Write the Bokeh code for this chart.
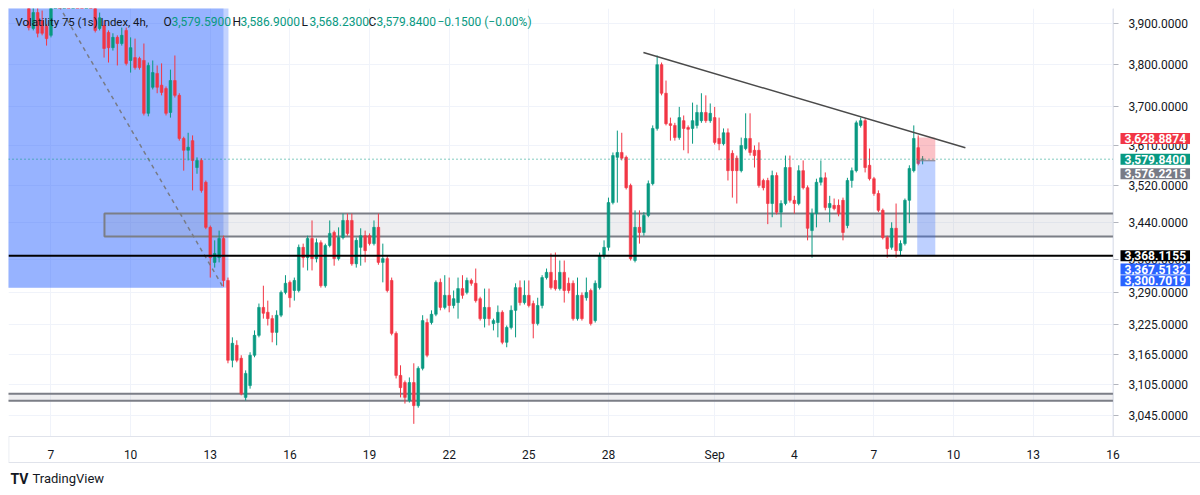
import pandas as pd
from bokeh.plotting import figure
from bokeh.models import Range1d, FixedTicker, NumeralTickFormatter, Label, ColumnDataSource
from bokeh.embed import file_html
from bokeh.resources import INLINE

# ---------------- data (4h candles, Volatility 75 (1s) Index) ----------------
first_candle = "2024-08-06 04:00"
opens = [3970, 3888, 3927, 3907, 3893, 3871, 3962, 3985, 3968, 3980, 3962, 3975, 3958, 3950, 3965,
         3945, 3888, 3895, 3878, 3841, 3866, 3851, 3883, 3810, 3817, 3815, 3810, 3685, 3746, 3779,
         3751, 3743, 3687, 3762, 3727, 3627, 3600, 3622, 3561, 3577, 3528, 3429, 3354, 3364, 3405,
         3316, 3153, 3183, 3157, 3080, 3103, 3163, 3203, 3260, 3250, 3237, 3209, 3244, 3291, 3312,
         3295, 3295, 3386, 3364, 3405, 3362, 3396, 3305, 3390, 3418, 3362, 3407, 3444, 3444, 3351,
         3386, 3411, 3411, 3394, 3429, 3354, 3362, 3316, 3207, 3123, 3109, 3074, 3109, 3064, 3137,
         3229, 3229, 3246, 3312, 3260, 3285, 3264, 3270, 3299, 3291, 3316, 3310, 3278, 3237, 3260,
         3227, 3229, 3250, 3189, 3219, 3254, 3301, 3270, 3285, 3268, 3227, 3264, 3322, 3333, 3316,
         3299, 3333, 3310, 3310, 3237, 3285, 3280, 3295, 3233, 3301, 3368, 3386, 3483, 3584, 3595,
         3584, 3521, 3358, 3429, 3418, 3455, 3525, 3650, 3800, 3732, 3661, 3657, 3629, 3668, 3652,
         3650, 3657, 3668, 3687, 3668, 3675, 3627, 3615, 3640, 3593, 3582, 3554, 3604, 3627, 3600,
         3600, 3532, 3532, 3481, 3543, 3462, 3481, 3561, 3488, 3481, 3554, 3516, 3422, 3459, 3528,
         3538, 3472, 3477, 3477, 3488, 3433, 3532, 3554, 3657, 3668, 3566, 3536, 3503, 3466, 3407,
         3386, 3427, 3379, 3394, 3488, 3554, 3606, 3579.59]
highs = [3985, 3942, 3945, 3932, 3898, 3975, 3992, 3995, 3990, 3988, 3985, 3982, 3970, 3972, 3975,
         3957, 3927, 3907, 3883, 3876, 3871, 3890, 3890, 3866, 3863, 3819, 3851, 3805, 3810, 3798,
         3803, 3748, 3788, 3822, 3732, 3631, 3640, 3634, 3584, 3582, 3532, 3433, 3401, 3422, 3411,
         3322, 3199, 3193, 3163, 3133, 3169, 3213, 3268, 3305, 3274, 3244, 3254, 3295, 3327, 3316,
         3322, 3392, 3394, 3411, 3444, 3405, 3401, 3394, 3444, 3422, 3429, 3459, 3459, 3459, 3407,
         3427, 3422, 3416, 3444, 3459, 3394, 3368, 3322, 3211, 3143, 3113, 3119, 3147, 3141, 3244,
         3237, 3254, 3316, 3320, 3327, 3322, 3295, 3322, 3327, 3322, 3320, 3341, 3282, 3299, 3299,
         3237, 3264, 3254, 3223, 3264, 3310, 3316, 3316, 3316, 3274, 3280, 3327, 3341, 3373, 3375,
         3358, 3358, 3322, 3316, 3322, 3291, 3322, 3299, 3316, 3375, 3401, 3494, 3595, 3645, 3640,
         3588, 3525, 3466, 3466, 3462, 3532, 3657, 3822, 3805, 3762, 3675, 3663, 3700, 3680, 3657,
         3710, 3705, 3732, 3727, 3708, 3700, 3675, 3650, 3650, 3600, 3588, 3629, 3685, 3685, 3611,
         3618, 3536, 3538, 3554, 3550, 3488, 3588, 3588, 3498, 3566, 3577, 3521, 3470, 3536, 3577,
         3550, 3498, 3492, 3490, 3494, 3538, 3561, 3668, 3675, 3672, 3604, 3540, 3510, 3470, 3411,
         3440, 3481, 3401, 3492, 3566, 3657, 3634, 3586.90]
lows = [3883, 3883, 3866, 3871, 3846, 3866, 3950, 3960, 3958, 3955, 3952, 3950, 3945, 3945, 3945,
        3878, 3883, 3817, 3805, 3834, 3798, 3846, 3798, 3781, 3788, 3788, 3680, 3678, 3741, 3732,
        3727, 3680, 3675, 3722, 3622, 3554, 3577, 3510, 3547, 3505, 3425, 3322, 3343, 3354, 3303,
        3147, 3139, 3149, 3084, 3074, 3097, 3159, 3199, 3237, 3223, 3189, 3183, 3240, 3287, 3260,
        3274, 3291, 3343, 3337, 3337, 3354, 3301, 3301, 3386, 3347, 3358, 3403, 3411, 3347, 3343,
        3347, 3354, 3390, 3390, 3349, 3312, 3291, 3203, 3117, 3080, 3068, 3070, 3029, 3060, 3133,
        3159, 3225, 3242, 3254, 3256, 3250, 3258, 3237, 3278, 3287, 3305, 3270, 3233, 3219, 3223,
        3213, 3199, 3185, 3179, 3215, 3199, 3264, 3266, 3260, 3197, 3223, 3258, 3318, 3297, 3295,
        3295, 3270, 3289, 3233, 3233, 3233, 3274, 3223, 3229, 3297, 3362, 3379, 3479, 3483, 3577,
        3512, 3358, 3354, 3394, 3411, 3451, 3521, 3645, 3727, 3657, 3622, 3622, 3624, 3600, 3593,
        3615, 3650, 3663, 3663, 3663, 3613, 3600, 3611, 3532, 3494, 3481, 3550, 3600, 3588, 3561,
        3516, 3510, 3436, 3451, 3457, 3429, 3477, 3483, 3459, 3477, 3512, 3401, 3364, 3429, 3521,
        3466, 3440, 3466, 3453, 3401, 3427, 3516, 3550, 3652, 3550, 3532, 3498, 3462, 3403, 3364,
        3381, 3364, 3368, 3390, 3438, 3550, 3566, 3568.23]
closes = [3890, 3927, 3876, 3876, 3863, 3962, 3985, 3968, 3980, 3962, 3975, 3958, 3950, 3965, 3955,
          3883, 3914, 3839, 3841, 3866, 3851, 3871, 3803, 3841, 3793, 3793, 3685, 3798, 3781, 3746,
          3734, 3685, 3762, 3727, 3627, 3600, 3607, 3577, 3577, 3510, 3429, 3364, 3373, 3405, 3316,
          3153, 3187, 3153, 3087, 3127, 3163, 3203, 3260, 3248, 3237, 3209, 3244, 3291, 3310, 3280,
          3316, 3386, 3364, 3405, 3362, 3396, 3305, 3390, 3416, 3362, 3407, 3444, 3416, 3351, 3401,
          3411, 3379, 3394, 3429, 3354, 3362, 3295, 3207, 3123, 3099, 3080, 3109, 3064, 3137, 3233,
          3163, 3246, 3312, 3260, 3285, 3264, 3278, 3299, 3285, 3316, 3310, 3274, 3237, 3260, 3237,
          3233, 3250, 3189, 3219, 3254, 3301, 3270, 3285, 3264, 3227, 3264, 3322, 3333, 3301, 3299,
          3333, 3295, 3295, 3237, 3285, 3237, 3291, 3227, 3310, 3368, 3386, 3483, 3588, 3595, 3582,
          3516, 3362, 3429, 3418, 3455, 3525, 3650, 3800, 3732, 3661, 3657, 3629, 3675, 3650, 3648,
          3668, 3687, 3687, 3668, 3685, 3618, 3615, 3640, 3554, 3554, 3554, 3611, 3627, 3595, 3588,
          3521, 3516, 3481, 3543, 3462, 3481, 3561, 3488, 3481, 3554, 3516, 3427, 3459, 3528, 3538,
          3472, 3481, 3470, 3459, 3418, 3532, 3554, 3663, 3668, 3561, 3536, 3503, 3466, 3407, 3383,
          3427, 3379, 3394, 3488, 3559, 3627, 3570, 3579.84]

x_ticks = [7, 10, 13, 16, 19, 22, 25, 28, 32, 35, 38, 41, 44, 47]          # days counted from Aug 0
x_tick_labels = ["7", "10", "13", "16", "19", "22", "25", "28", "Sep", "4", "7", "10", "13", "16"]
y_ticks = [3045, 3105, 3165, 3225, 3290, 3360, 3440, 3520, 3610, 3700, 3800, 3900]

# drawings (time in days of August, price)
support_level = 3368.1155
last_price = 3579.84
zone_top, zone_bottom, zone_start = 3459.1, 3409.3, 9.015
low_zone_top, low_zone_bottom = 3087.0, 3073.5
trend_t = [29.316, 41.444]
trend_p = [3829.3, 3605.7]
short_box_end = [13.685, 13.497]
short_box_bottom = 3300.7019
short_diag_t = [7.0, 13.497]
short_diag_p = [3978.0, 3300.7019]
pos_t = [39.63, 40.31]
pos_stop, pos_entry, pos_target = 3628.8874, 3576.2215, 3367.5132

# layout of the price/time scales (data coordinates of the scale borders)
X0, X_SCALE, X1 = 5.40, 47.02, 50.30          # left edge, price-scale border, right edge
Y_TIME_AXIS, Y_BOTTOM_BORDER, Y0, Y1 = 3004.9, 2955.9, 2895.0, 3937.1

GREEN = "#089981"
RED = "#f23645"
BORDER = "#e0e3eb"
FONT = "Roboto"

# ---------------- build ----------------
times = pd.date_range(first_candle, periods=len(opens), freq="4h")
tday = ((times - pd.Timestamp("2024-07-31")).total_seconds() / 86400.0).tolist()
colors = [GREEN if c >= o else RED for o, c in zip(opens, closes)]
src = ColumnDataSource(dict(t=tday, o=opens, h=highs, l=lows, c=closes, col=colors,
                            top=[max(o, c) for o, c in zip(opens, closes)],
                            bot=[min(o, c) for o, c in zip(opens, closes)]))

p = figure(width=1200, height=495, y_axis_type="log",
           x_range=Range1d(X0, X1), y_range=Range1d(Y0, Y1),
           output_backend="svg", toolbar_location=None, y_axis_location="right",
           min_border_left=8, min_border_top=8, min_border_right=0, min_border_bottom=0)
p.background_fill_color = "white"
p.border_fill_color = "white"
p.outline_line_color = None

# axes (placed inside the frame at fixed locations)
p.yaxis.fixed_location = X_SCALE
p.yaxis.ticker = FixedTicker(ticks=y_ticks)
p.yaxis.formatter = NumeralTickFormatter(format="0,0.0000")
p.yaxis.major_label_text_font = FONT
p.yaxis.major_label_text_font_size = "12px"
p.yaxis.major_label_text_color = "#131722"
p.yaxis.axis_line_color = None
p.yaxis.major_tick_line_color = "#b2b5be"
p.yaxis.major_tick_out = 5
p.yaxis.major_tick_in = 0
p.yaxis.minor_tick_line_color = None
p.yaxis.major_label_standoff = 10

p.xaxis.fixed_location = Y_TIME_AXIS
p.xaxis.ticker = FixedTicker(ticks=x_ticks)
p.xaxis.major_label_overrides = {t: s for t, s in zip(x_ticks, x_tick_labels)}
p.xaxis.major_label_text_font = FONT
p.xaxis.major_label_text_font_size = "12px"
p.xaxis.major_label_text_color = "#131722"
p.xaxis.axis_line_color = None
p.xaxis.major_tick_line_color = None
p.xaxis.minor_tick_line_color = None
p.xaxis.major_label_standoff = 6

p.xgrid.grid_line_color = "#f0f3fa"
p.ygrid.grid_line_color = "#f0f3fa"

# background drawings
for right in short_box_end:
    p.quad(left=[4.0], right=[right], bottom=[short_box_bottom], top=[4500],
           fill_color="#2962ff", fill_alpha=0.28, line_color=None)
p.quad(left=[zone_start], right=[X1 + 1], bottom=[zone_bottom], top=[zone_top],
       fill_color="#9598a1", fill_alpha=0.16, line_color="#7b7e86", line_width=2)
p.quad(left=[4.0], right=[X1 + 1], bottom=[low_zone_bottom], top=[low_zone_top],
       fill_color="#9598a1", fill_alpha=0.16, line_color="#7b7e86", line_width=2)

# scale areas (white, hide grid / drawings)
p.quad(left=[X_SCALE], right=[X1 + 1], bottom=[Y0 - 100], top=[Y1 + 600],
       fill_color="white", line_color=None)
p.quad(left=[X0 - 1], right=[X1 + 1], bottom=[Y0 - 100], top=[Y_TIME_AXIS],
       fill_color="white", line_color=None)

# candles
p.segment(x0="t", y0="l", x1="t", y1="h", color="col", line_width=1, source=src)
p.vbar(x="t", width=0.1, top="top", bottom="bot", fill_color="col", line_color="col",
       line_width=0.6, source=src)

# foreground drawings
p.segment(x0=[short_diag_t[0]], y0=[short_diag_p[0]], x1=[short_diag_t[1]], y1=[short_diag_p[1]],
          line_color="#787b86", line_width=1.5, line_dash="4 4")
p.quad(left=[pos_t[0]], right=[pos_t[1]], bottom=[pos_entry], top=[pos_stop],
       fill_color=RED, fill_alpha=0.3, line_color=None)
p.quad(left=[pos_t[0]], right=[pos_t[1]], bottom=[pos_target], top=[pos_entry],
       fill_color="#2962ff", fill_alpha=0.3, line_color=None)
p.segment(x0=[pos_t[0]], y0=[pos_entry], x1=[pos_t[1]], y1=[pos_entry],
          line_color="#787b86", line_width=1)
p.segment(x0=[trend_t[0]], y0=[trend_p[0]], x1=[trend_t[1]], y1=[trend_p[1]],
          line_color="#4a4a4a", line_width=1.5)
p.segment(x0=[X0], y0=[support_level], x1=[X_SCALE], y1=[support_level],
          line_color="black", line_width=2)
p.segment(x0=[X0], y0=[last_price], x1=[X_SCALE], y1=[last_price],
          line_color=GREEN, line_width=1, line_dash="1 3")

# chart borders
p.segment(x0=[X_SCALE, X0, X0, X0 + 0.01], y0=[Y_TIME_AXIS, Y_TIME_AXIS, Y_BOTTOM_BORDER, Y_BOTTOM_BORDER],
          x1=[X_SCALE, X1, X1, X0 + 0.01], y1=[Y1 + 600, Y_TIME_AXIS, Y_BOTTOM_BORDER, Y_TIME_AXIS],
          line_color=BORDER, line_width=1)

# legend text (top-left), screen units from the frame's bottom-left corner
legend_parts = [
    ("Volatility 75 (1s) Index, 4h,", 7, "#131722", "11.4px"),
    ("O", 155, "#131722", "12px"), ("3,579.5900", 163, GREEN, "12px"),
    ("H", 224, "#131722", "12px"), ("3,586.9000", 232, GREEN, "12px"),
    ("L", 293, "#131722", "12px"), ("3,568.2300", 301, GREEN, "12px"),
    ("C", 360, "#131722", "12px"), ("3,579.8400", 368, GREEN, "12px"),
    ("\u22120.1500 (\u22120.00%)", 429, GREEN, "12px"),
]
for txt, xs, col, fs in legend_parts:
    p.add_layout(Label(x=xs, y=474, x_units="screen", y_units="screen", text=txt,
                       text_font=FONT, text_font_size=fs, text_color=col,
                       text_baseline="middle"))

# price labels on the price scale
price_tags = [
    (pos_stop, "3,628.8874", RED, -1),
    (last_price, "3,579.8400", GREEN, 0),
    (pos_entry, "3,576.2215", "#787b86", -13),
    (support_level, "3,368.1155", "#000000", 0),
    (pos_target, "3,367.5132", "#2962ff", -13),
    (short_box_bottom, "3,300.7019", "#2962ff", 7),
]
for price, txt, bg, off in price_tags:
    p.add_layout(Label(x=1112, x_units="screen", y=price, y_units="data", y_offset=off,
                       text=txt, text_font=FONT, text_font_size="12px",
                       text_font_style="bold", text_color="white", text_baseline="middle",
                       background_fill_color=bg, padding=(4, 1)))

# TradingView logo
p.add_layout(Label(x=2, y=17, x_units="screen", y_units="screen", text="TV",
                   text_font=FONT, text_font_size="14px", text_font_style="bold",
                   text_color="#131722", text_baseline="middle"))
p.add_layout(Label(x=24, y=17, x_units="screen", y_units="screen", text="TradingView",
                   text_font=FONT, text_font_size="13px",
                   text_color="#131722", text_baseline="middle"))

open("out.html", "w").write(file_html(p, INLINE))
